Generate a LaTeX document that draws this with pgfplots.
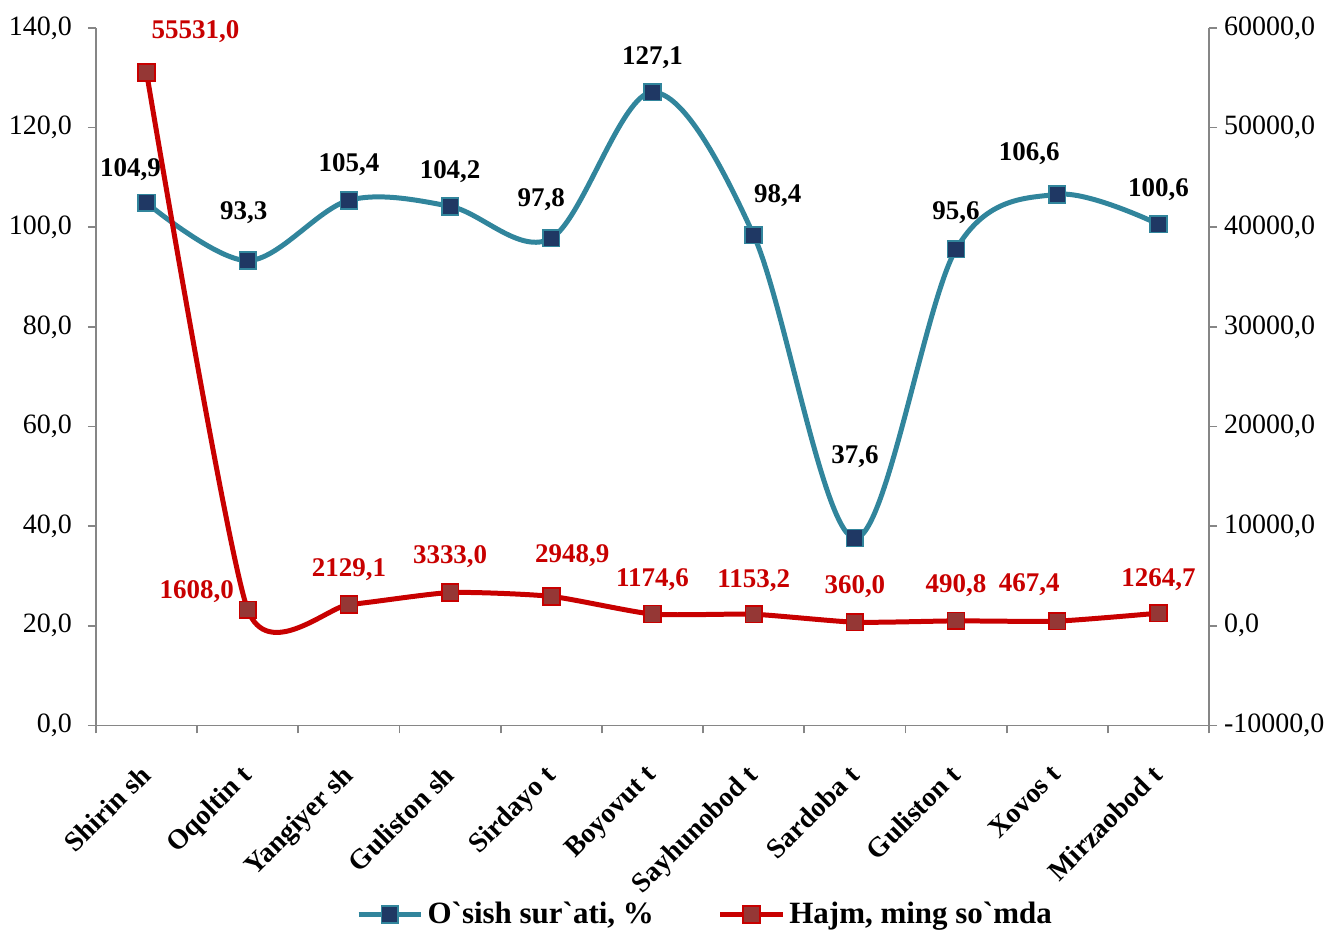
\documentclass[border=0pt]{standalone}
\usepackage{fontspec}
\setmainfont{Liberation Serif}
\newfontfamily\plainserif{Liberation Serif}
\usepackage{pgfplots}
\pgfplotsset{compat=1.18}

\definecolor{tealline}{RGB}{49,133,156}
\definecolor{navyfill}{RGB}{31,56,100}
\definecolor{redline}{RGB}{200,0,0}
\definecolor{redfill}{RGB}{149,55,53}
\definecolor{axisgray}{RGB}{134,134,134}

\begin{document}
\begin{tikzpicture}[font=\fontsize{14}{16}\selectfont]
\pgfplotsset{
  common/.style={
    scale only axis, width=557pt, height=349pt,
    xmin=-0.5, xmax=10.5,
    clip=false,
    tick align=outside,
    major tick length=4pt, minor tick length=4pt,
    every tick/.style={axisgray, line width=0.9pt},
    axis line style={axisgray, line width=0.9pt},
    scaled y ticks=false,
    /pgf/number format/.cd, fixed, fixed zerofill, precision=1,
      use comma, 1000 sep={}, assume math mode=true,
  },
}
\begin{axis}[
  common,
  ymin=0, ymax=140, ytick={0,20,...,140},
  axis x line*=bottom, axis y line*=left,
  yticklabel style={xshift=-4.5pt},
  xtick={0,...,10},
  xticklabels={Shirin sh, Oqoltin t, Yangiyer sh, Guliston sh, Sirdayo t,
    Boyovut t, Sayhunobod t, Sardoba t, Guliston t, Xovos t, Mirzaobod t},
  major x tick style={draw=none},
  minor xtick={-0.5,0.5,...,10.5},
  xticklabel style={xshift=-4pt, yshift=-10pt, rotate=45, anchor=north east,
    font=\fontsize{14}{16}\selectfont\bfseries},
  legend style={draw=none, at={(0.548,-0.271)}, anchor=center,
    legend columns=2, font=\fontsize{15.5}{17}\selectfont\bfseries\plainserif,
    /tikz/every even column/.append style={column sep=30pt}},
  legend image code/.code={\draw[mark repeat=2, mark phase=2]
    plot coordinates {(0cm,0cm) (0.55cm,0cm) (1.1cm,0cm)};},
]
\path (rel axis cs:-0.0862,-0.298) rectangle (rel axis cs:1.1086,1.0401);
\addplot[tealline, line width=2.5pt, smooth, tension=0.55,
  mark=square*, mark size=4.2pt,
  mark options={fill=navyfill, draw=tealline, line width=0.8pt}]
  coordinates {
  (0,104.9) (1,93.3) (2,105.4) (3,104.2) (4,97.8) (5,127.1)
  (6,98.4) (7,37.6) (8,95.6) (9,106.6) (10,100.6)
};
\addlegendentry{O`sish sur`ati, \%}
\addlegendimage{redline, line width=2.5pt, mark=square*, mark size=4.2pt,
  mark options={fill=redfill, draw=redline, line width=0.8pt}}
\addlegendentry{Hajm, ming so`mda}

\tikzset{tl/.style={font=\fontsize{13.5}{15}\selectfont\bfseries, text=black}}
\node[tl, xshift=-8pt, yshift=16.5pt] at (axis cs:0,104.9) {104,9};
\node[tl, xshift=-2pt, yshift=24pt] at (axis cs:1,93.3) {93,3};
\node[tl, yshift=18pt] at (axis cs:2,105.4) {105,4};
\node[tl, yshift=17.5pt] at (axis cs:3,104.2) {104,2};
\node[tl, xshift=-5pt, yshift=19.5pt] at (axis cs:4,97.8) {97,8};
\node[tl, yshift=17.5pt] at (axis cs:5,127.1) {127,1};
\node[tl, xshift=12pt, yshift=20pt] at (axis cs:6,98.4) {98,4};
\node[tl, yshift=41pt] at (axis cs:7,37.6) {37,6};
\node[tl, yshift=18.5pt] at (axis cs:8,95.6) {95,6};
\node[tl, xshift=-14pt, yshift=20.5pt] at (axis cs:9,106.6) {106,6};
\node[tl, yshift=17.5pt] at (axis cs:10,100.6) {100,6};
\end{axis}

\begin{axis}[
  common,
  ymin=-10000, ymax=60000, ytick={-10000,0,...,60000},
  axis x line=none, axis y line*=right,
]
\addplot[redline, line width=2.5pt, smooth, tension=0.36,
  mark=square*, mark size=4.2pt,
  mark options={fill=redfill, draw=redline, line width=0.8pt}]
  coordinates {
  (0,55531) (1,1608) (2,2129.1) (3,3333) (4,2948.9) (5,1174.6)
  (6,1153.2) (7,360) (8,490.8) (9,467.4) (10,1264.7)
};
\tikzset{rl/.style={font=\fontsize{13.5}{15}\selectfont\bfseries, text=redline}}
\node[rl, xshift=24.5pt, yshift=20.5pt] at (axis cs:0,55531) {55531,0};
\node[rl, xshift=-25.5pt, yshift=9pt] at (axis cs:1,1608) {1608,0};
\node[rl, yshift=17.5pt] at (axis cs:2,2129.1) {2129,1};
\node[rl, yshift=18pt] at (axis cs:3,3333) {3333,0};
\node[rl, xshift=10.5pt, yshift=20.5pt] at (axis cs:4,2948.9) {2948,9};
\node[rl, yshift=17pt] at (axis cs:5,1174.6) {1174,6};
\node[rl, yshift=17pt] at (axis cs:6,1153.2) {1153,2};
\node[rl, yshift=18pt] at (axis cs:7,360) {360,0};
\node[rl, yshift=17.5pt] at (axis cs:8,490.8) {490,8};
\node[rl, xshift=-14pt, yshift=18pt] at (axis cs:9,467.4) {467,4};
\node[rl, yshift=17pt] at (axis cs:10,1264.7) {1264,7};
\end{axis}
\end{tikzpicture}
\end{document}
